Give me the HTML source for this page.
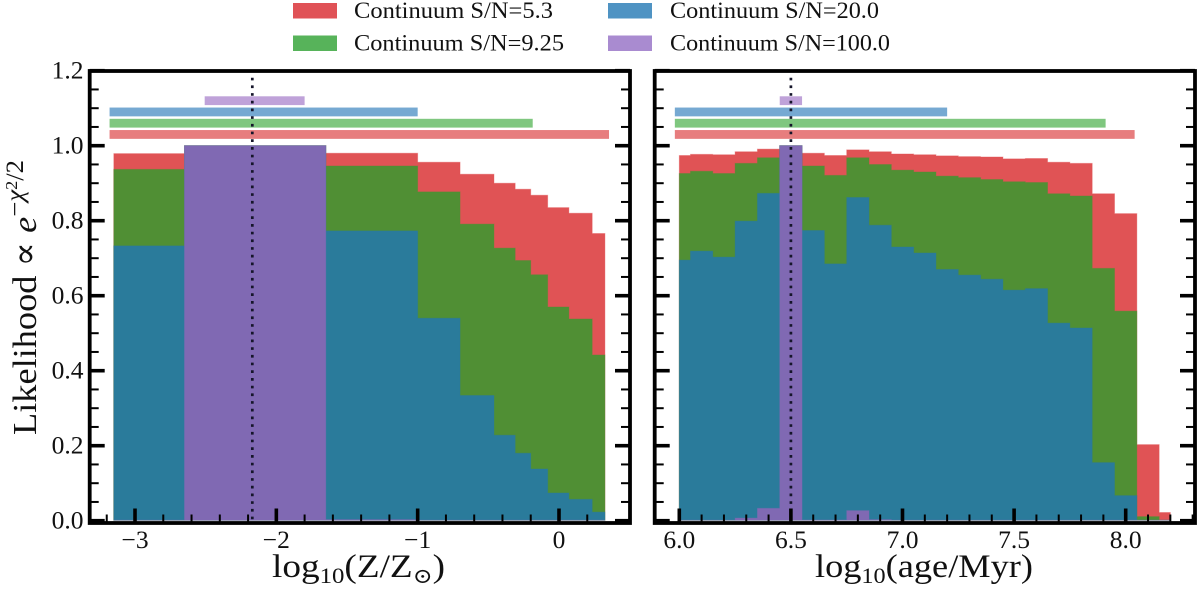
<!DOCTYPE html>
<html lang="en">
<head>
<meta charset="utf-8">
<title>Likelihood vs metallicity and age</title>
<style>
html,body{margin:0;padding:0;background:#fff;width:1200px;height:590px;overflow:hidden}
svg{display:block}
text{font-family:"Liberation Serif","DejaVu Serif",serif;fill:#111}
</style>
</head>
<body>
<svg id="chart" width="1200" height="590" viewBox="0 0 1200 590" xmlns="http://www.w3.org/2000/svg">
  <g id="legend">
    <rect x="293" y="3" width="44" height="15.5" fill="#e05257"/>
    <text x="354" y="18" font-size="23" textLength="199" lengthAdjust="spacingAndGlyphs">Continuum S/N=5.3</text>
    <rect x="293" y="35.5" width="44" height="15.5" fill="#57b35a"/>
    <text x="354" y="50.5" font-size="23" textLength="210" lengthAdjust="spacingAndGlyphs">Continuum S/N=9.25</text>
    <rect x="608" y="3" width="44" height="15.5" fill="#4f93c3"/>
    <text x="670" y="18" font-size="23" textLength="209" lengthAdjust="spacingAndGlyphs">Continuum S/N=20.0</text>
    <rect x="608" y="35.5" width="44" height="15.5" fill="#a98bd0"/>
    <text x="670" y="50.5" font-size="23" textLength="220" lengthAdjust="spacingAndGlyphs">Continuum S/N=100.0</text>
  </g>
  <g id="panel-left"></g>
  <g id="panel-right"></g>
  <text transform="translate(36,435) rotate(-90)" font-size="34" textLength="275" lengthAdjust="spacingAndGlyphs">Likelihood ∝ <tspan font-style="italic">e</tspan><tspan font-size="25" dy="-13">−</tspan><tspan font-size="25" font-style="italic">χ</tspan><tspan font-size="17" dy="-6">2</tspan><tspan font-size="25" dy="6">/2</tspan></text>
  <text x="272" y="577" font-size="33" textLength="173" lengthAdjust="spacingAndGlyphs">log<tspan font-size="22" dy="6">10</tspan><tspan dy="-6">(Z/Z</tspan><tspan font-size="21" dy="6">⊙</tspan><tspan dy="-6">)</tspan></text>
  <text x="815" y="577" font-size="33" textLength="218" lengthAdjust="spacingAndGlyphs">log<tspan font-size="22" dy="6">10</tspan><tspan dy="-6">(age/Myr)</tspan></text>
</svg>
<script>
// ---- shared y axis data ----
const yMajorTicks = [0, 0.2, 0.4, 0.6, 0.8, 1.0, 1.2];
const yMinorTicks = [0.05, 0.1, 0.15, 0.25, 0.3, 0.35, 0.45, 0.5, 0.55, 0.65, 0.7, 0.75, 0.85, 0.9, 0.95, 1.05, 1.1, 1.15];
const yTickLabels = ['0.0', '0.2', '0.4', '0.6', '0.8', '1.0', '1.2'];

// ---- metallicity panel data ----
const zEdges = [-3.15, -2.65, -1.65, -1.0, -0.70, -0.46, -0.31, -0.2, -0.08, 0.07, 0.235, 0.325];
const zRed = [0.979, 1.0, 0.98, 0.956, 0.924, 0.90, 0.884, 0.868, 0.835, 0.82, 0.766];
const zGreen = [0.937, 1.0, 0.946, 0.877, 0.791, 0.727, 0.694, 0.656, 0.57, 0.538, 0.442];
const zBlue = [0.733, 1.0, 0.773, 0.54, 0.334, 0.228, 0.18, 0.138, 0.074, 0.057, 0.023];
const zPurple = [0, 1.0, 0.003, 0, 0, 0, 0, 0, 0, 0, 0];
const zRangeStart = [-3.18, -3.18, -3.18, -2.507];
const zRangeEnd = [0.354, -0.186, -1.0, -1.80];
const zBest = -2.17;
const zMajorTicks = [-3, -2, -1, 0];
const zMajorLabels = ['−3', '−2', '−1', '0'];
const zMinorTicks = [-3.2, -2.8, -2.6, -2.4, -2.2, -1.8, -1.6, -1.4, -1.2, -0.8, -0.6, -0.4, -0.2, 0.2];

// ---- age panel data ----
const ageEdges = [6.0, 6.05, 6.15, 6.25, 6.35, 6.45, 6.55, 6.65, 6.75, 6.85, 6.95, 7.05, 7.15, 7.25, 7.35, 7.45, 7.55, 7.65, 7.75, 7.85, 7.95, 8.05, 8.15, 8.2];
const ageRed = [0.974, 0.977, 0.976, 0.984, 0.991, 1.0, 0.98, 0.974, 0.989, 0.984, 0.978, 0.976, 0.973, 0.971, 0.97, 0.965, 0.966, 0.956, 0.953, 0.872, 0.819, 0.203, 0.022];
const ageGreen = [0.926, 0.932, 0.926, 0.953, 0.968, 1.0, 0.946, 0.921, 0.968, 0.95, 0.935, 0.93, 0.919, 0.915, 0.91, 0.904, 0.902, 0.872, 0.866, 0.673, 0.559, 0.011, 0];
const ageBlue = [0.695, 0.719, 0.703, 0.799, 0.873, 1.0, 0.774, 0.685, 0.862, 0.788, 0.73, 0.714, 0.67, 0.655, 0.644, 0.615, 0.619, 0.527, 0.514, 0.155, 0.067, 0, 0];
const agePurple = [0, 0, 0, 0.007, 0.033, 1.0, 0.002, 0.002, 0.027, 0.003, 0, 0, 0, 0, 0, 0, 0, 0, 0, 0, 0, 0, 0];
const ageRangeStart = [5.98, 5.98, 5.98, 6.45];
const ageRangeEnd = [8.04, 7.91, 7.2, 6.55];
const ageBest = 6.5;
const ageMajorTicks = [6.0, 6.5, 7.0, 7.5, 8.0];
const ageMajorLabels = ['6.0', '6.5', '7.0', '7.5', '8.0'];
const ageMinorTicks = [6.1, 6.2, 6.3, 6.4, 6.6, 6.7, 6.8, 6.9, 7.1, 7.2, 7.3, 7.4, 7.6, 7.7, 7.8, 7.9, 8.1, 8.2, 8.3];

// ---- range bar heights, in likelihood units ----
const rangeLevels = [1.03, 1.06, 1.09, 1.12];

const histColors = ['#e05355', '#508f34', '#2a7b9b', '#8069b3'];
const rangeColors = ['#e77d7e', '#7fc77f', '#76a9d2', '#bfa2d9'];
const seriesNames = ['sn-5-3', 'sn-9-25', 'sn-20', 'sn-100'];
const NS = 'http://www.w3.org/2000/svg';

function yScale(v) { return 520.7 - 375 * v; }
function zScale(v) { return 559 + 141.33 * v; }
function ageScale(v) { return 679.3 + 223.2 * (v - 6); }

function make(parent, tag, attrs) {
  const el = document.createElementNS(NS, tag);
  for (const k in attrs) el.setAttribute(k, attrs[k]);
  parent.appendChild(el);
  return el;
}

function stepPath(edges, vals, xs) {
  const base = yScale(0) - 0.5;
  let d = 'M' + xs(edges[0]) + ' ' + base;
  vals.forEach(function (v, i) {
    const top = Math.min(yScale(v), base);
    d += 'L' + xs(edges[i]) + ' ' + top + 'L' + xs(edges[i + 1]) + ' ' + top;
  });
  return d + 'L' + xs(edges[edges.length - 1]) + ' ' + base + 'Z';
}

function drawPanel(g, xs, cfg) {
  const L = cfg.left, R = cfg.right, T = 71, B = 523;

  // one continuous step outline per series; later series sit on top
  cfg.series.forEach(function (vals, s) {
    const p = make(g, 'path', {
      d: stepPath(cfg.edges, vals, xs),
      fill: histColors[s], stroke: histColors[s],
      'stroke-opacity': 0.4, 'stroke-width': 0.9
    });
    
    
  });

  // credible-range bars
  cfg.rangeStart.forEach(function (st, s) {
    const r = make(g, 'rect', {
      x: xs(st), y: yScale(rangeLevels[s]) - 4.4,
      width: xs(cfg.rangeEnd[s]) - xs(st), height: 8.8,
      fill: rangeColors[s]
    });
    
    
  });

  // best-fit dotted line
  const dotted = make(g, 'line', {
    x1: xs(cfg.best), x2: xs(cfg.best), y1: 77.7, y2: 521,
    stroke: '#15152a', 'stroke-width': 2.7, 'stroke-dasharray': '2.7 5'
  });
  
  

  // y ticks on both sides
  yMinorTicks.forEach(function (v) {
    [[L, L + 9], [R, R - 9]].forEach(function (p) {
      const t = make(g, 'line', { x1: p[0], x2: p[1], y1: yScale(v), y2: yScale(v), stroke: '#000', 'stroke-width': 2 });
      
      
    });
  });
  yMajorTicks.forEach(function (v, i) {
    [[L, L + 15], [R, R - 15]].forEach(function (p) {
      const t = make(g, 'line', { x1: p[0], x2: p[1], y1: yScale(v), y2: yScale(v), stroke: '#000', 'stroke-width': 3.6 });
      
      
    });
    if (cfg.showYLabels) {
      const lab = make(g, 'text', { x: 83.5, y: yScale(v) + 8, 'font-size': 25.5, 'text-anchor': 'end' });
      lab.textContent = yTickLabels[i];
      
      
    }
  });

  // x ticks
  cfg.minor.forEach(function (v) {
    const t = make(g, 'line', { x1: xs(v), x2: xs(v), y1: B, y2: B - 8.5, stroke: '#000', 'stroke-width': 2 });
    
    
  });
  cfg.major.forEach(function (v, i) {
    const t = make(g, 'line', { x1: xs(v), x2: xs(v), y1: B, y2: B - 14.5, stroke: '#000', 'stroke-width': 3.6 });
    
    
    const lab = make(g, 'text', { x: xs(v), y: 548, 'font-size': 25.5, 'text-anchor': 'middle' });
    lab.textContent = cfg.labels[i];
    
    
  });

  // frame
  const frame = make(g, 'rect', { x: L, y: T, width: R - L, height: B - T, fill: 'none', stroke: '#000', 'stroke-width': 3.8 });
  
  
}

drawPanel(document.getElementById('panel-left'), zScale, {
  left: 89.7, right: 630, showYLabels: true,
  edges: zEdges, series: [zRed, zGreen, zBlue, zPurple],
  rangeStart: zRangeStart, rangeEnd: zRangeEnd, best: zBest,
  major: zMajorTicks, labels: zMajorLabels, minor: zMinorTicks
});
drawPanel(document.getElementById('panel-right'), ageScale, {
  left: 654.7, right: 1195, showYLabels: false,
  edges: ageEdges, series: [ageRed, ageGreen, ageBlue, agePurple],
  rangeStart: ageRangeStart, rangeEnd: ageRangeEnd, best: ageBest,
  major: ageMajorTicks, labels: ageMajorLabels, minor: ageMinorTicks
});
</script>
</body>
</html>
